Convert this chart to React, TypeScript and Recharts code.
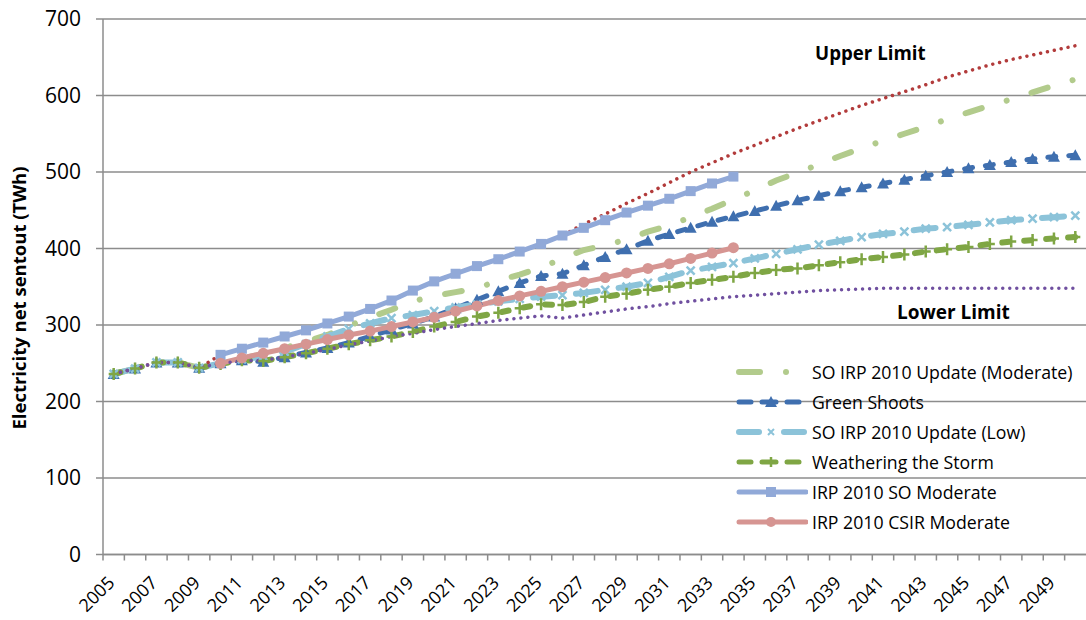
import React from 'react';
import { LineChart, Line, XAxis, YAxis, CartesianGrid } from 'recharts';

const years = [
  2005, 2006, 2007, 2008, 2009, 2010, 2011, 2012, 2013, 2014,
  2015, 2016, 2017, 2018, 2019, 2020, 2021, 2022, 2023, 2024,
  2025, 2026, 2027, 2028, 2029, 2030, 2031, 2032, 2033, 2034,
  2035, 2036, 2037, 2038, 2039, 2040, 2041, 2042, 2043, 2044,
  2045, 2046, 2047, 2048, 2049, 2050,
];

const soUpdateModerate = [
  236, 243, 251, 251, 244, 250, 256, 262, 270, 278,
  287, 299, 310, 320, 331, 338, 343, 348, 358, 366,
  375, 387, 398, 404, 412, 422, 430, 441, 452, 464,
  476, 489, 499, 510, 521, 531, 541, 550, 559, 569,
  578, 587, 595, 604, 613, 621,
];

const greenShoots = [
  236, 243, 251, 251, 244, 250, 254, 252, 258, 264,
  270, 277, 285, 294, 302, 311, 322, 333, 344, 355,
  364, 367, 378, 389, 399, 410, 419, 427, 435, 442,
  449, 456, 463, 469, 475, 480, 485, 490, 495, 500,
  505, 509, 513, 517, 520, 522,
];

const soUpdateLow = [
  236, 243, 251, 251, 244, 250, 255, 259, 265, 275,
  285, 295, 302, 309, 313, 318, 323, 327, 331, 334,
  337, 339, 342, 346, 350, 355, 363, 371, 376, 381,
  387, 393, 399, 405, 410, 415, 419, 422, 426, 428,
  431, 434, 437, 439, 441, 443,
];

const weathering = [
  236, 243, 251, 251, 244, 249, 254, 253, 258, 263,
  269, 275, 280, 285, 291, 298, 304, 311, 316, 322,
  327, 326, 330, 337, 341, 346, 350, 355, 359, 363,
  368, 372, 374, 378, 382, 386, 389, 392, 396, 399,
  402, 406, 409, 411, 413, 415,
];

const irpSoModerate = [
  null, null, null, null, null, 261, 269, 277, 285, 293,
  302, 311, 321, 332, 345, 357, 367, 377, 386, 396,
  406, 417, 427, 437, 447, 456, 465, 475, 485, 494,
  null, null, null, null, null, null, null, null, null, null,
  null, null, null, null, null, null,
];

const irpCsirModerate = [
  null, null, null, null, null, 250, 257, 263, 269, 275,
  281, 287, 292, 298, 304, 310, 318, 325, 332, 338,
  344, 350, 356, 362, 368, 374, 380, 387, 394, 401,
  null, null, null, null, null, null, null, null, null, null,
  null, null, null, null, null, null,
];

const upperLimit = [
  236, 243, 251, 251, 244, 261, 269, 277, 285, 293,
  302, 311, 321, 332, 345, 357, 367, 377, 386, 396,
  406, 417, 432, 445, 459, 472, 486, 500, 512, 524,
  535, 546, 557, 567, 577, 587, 596, 605, 614, 624,
  632, 640, 647, 653, 659, 665,
];

const lowerLimit = [
  236, 243, 251, 251, 244, 250, 253, 254, 258, 263,
  268, 274, 279, 285, 289, 294, 298, 302, 306, 309,
  312, 309, 313, 317, 321, 324, 328, 331, 334, 337,
  339, 341, 343, 345, 346, 347, 348, 348, 348, 348,
  348, 348, 348, 348, 348, 348,
];

const yTicks = [0, 100, 200, 300, 400, 500, 600, 700];

const data = years.map((year, i) => ({
  year,
  soUpdateModerate: soUpdateModerate[i],
  greenShoots: greenShoots[i],
  soUpdateLow: soUpdateLow[i],
  weathering: weathering[i],
  irpSoModerate: irpSoModerate[i],
  irpCsirModerate: irpCsirModerate[i],
  upperLimit: upperLimit[i],
  lowerLimit: lowerLimit[i],
}));

const FONT = '"Open Sans", sans-serif';
const GRID = '#8c8c8c';

const C = {
  soUpdMod: '#b2cb8c',
  green: '#3f6faf',
  low: '#8cc3d9',
  weather: '#7fa644',
  soMod: '#91a9d8',
  csir: '#d69592',
  upper: '#b23b3b',
  lower: '#7050a0',
};

// markers
const triangle = (color: string) => (p: any) => {
  const { cx, cy, index } = p;
  if (cx == null || cy == null) return <g key={index} />;
  return <path key={index} d={`M${cx},${cy - 6} L${cx + 6},${cy + 5} L${cx - 6},${cy + 5} Z`} fill={color} />;
};
const cross = (color: string) => (p: any) => {
  const { cx, cy, index } = p;
  if (cx == null || cy == null) return <g key={index} />;
  return (
    <path key={index} d={`M${cx - 4},${cy - 4} L${cx + 4},${cy + 4} M${cx - 4},${cy + 4} L${cx + 4},${cy - 4}`}
      stroke={color} strokeWidth={2.5} />
  );
};
const plus = (color: string) => (p: any) => {
  const { cx, cy, index } = p;
  if (cx == null || cy == null) return <g key={index} />;
  return (
    <path key={index} d={`M${cx - 5},${cy} L${cx + 5},${cy} M${cx},${cy - 6} L${cx},${cy + 6}`}
      stroke={color} strokeWidth={2.5} />
  );
};
const square = (color: string) => (p: any) => {
  const { cx, cy, index } = p;
  if (cx == null || cy == null) return <g key={index} />;
  return <rect key={index} x={cx - 5} y={cy - 5} width={10} height={10} fill={color} />;
};
const circle = (color: string) => (p: any) => {
  const { cx, cy, index } = p;
  if (cx == null || cy == null) return <g key={index} />;
  return <circle key={index} cx={cx} cy={cy} r={5.5} fill={color} />;
};

const BAND = 983 / 46;

const XTick = (props: any) => {
  const { x, y, payload } = props;
  const show = payload.value % 2 === 1;
  const ax = x + 2;
  const ay = y + 29.5;
  return (
    <g>
      <line x1={x - BAND / 2} x2={x - BAND / 2} y1={y} y2={y + 6} stroke={GRID} strokeWidth={1.5} />
      {show && (
        <text x={ax} y={ay} textAnchor="end" transform={`rotate(-45, ${ax}, ${ay})`}
          fill="#000" fontSize={18} fontFamily={FONT}>
          {payload.value}
        </text>
      )}
    </g>
  );
};

const YTick = (props: any) => {
  const { y, payload } = props;
  return (
    <text x={81} y={y} dy={7} textAnchor="end" fill="#000" fontSize={21} fontFamily={FONT}>
      {payload.value}
    </text>
  );
};

const legendItems = [
  { name: 'SO IRP 2010 Update (Moderate)', key: 'soUpdMod' },
  { name: 'Green Shoots', key: 'green' },
  { name: 'SO IRP 2010 Update (Low)', key: 'low' },
  { name: 'Weathering the Storm', key: 'weather' },
  { name: 'IRP 2010 SO Moderate', key: 'soMod' },
  { name: 'IRP 2010 CSIR Moderate', key: 'csir' },
];

const LegendIcon = ({ k }: { k: string }) => {
  const y = 8;
  if (k === 'soUpdMod') {
    return (
      <svg width={72} height={16}>
        <line x1={3} x2={24} y1={y} y2={y} stroke={C.soUpdMod} strokeWidth={6} strokeLinecap="round" />
        <circle cx={50} cy={y} r={3} fill={C.soUpdMod} />
      </svg>
    );
  }
  if (k === 'green' || k === 'weather') {
    const col = k === 'green' ? C.green : C.weather;
    return (
      <svg width={72} height={16}>
        <line x1={3} x2={15} y1={y} y2={y} stroke={col} strokeWidth={5} strokeLinecap="round" />
        <line x1={26} x2={40} y1={y} y2={y} stroke={col} strokeWidth={5} strokeLinecap="round" />
        <line x1={51} x2={63} y1={y} y2={y} stroke={col} strokeWidth={5} strokeLinecap="round" />
        {k === 'green'
          ? <path d={`M35,${y - 6} L41,${y + 5} L29,${y + 5} Z`} fill={col} />
          : <path d={`M35,${y - 5} L35,${y + 5}`} stroke={col} strokeWidth={2.5} />}
      </svg>
    );
  }
  if (k === 'low') {
    return (
      <svg width={72} height={16}>
        <line x1={3} x2={23} y1={y} y2={y} stroke={C.low} strokeWidth={6} strokeLinecap="round" />
        <path d={`M32,${y - 3} L38,${y + 3} M32,${y + 3} L38,${y - 3}`} stroke={C.low} strokeWidth={2} />
        <line x1={48} x2={68} y1={y} y2={y} stroke={C.low} strokeWidth={6} strokeLinecap="round" />
      </svg>
    );
  }
  const col = k === 'soMod' ? C.soMod : C.csir;
  return (
    <svg width={72} height={16}>
      <line x1={3} x2={70} y1={y} y2={y} stroke={col} strokeWidth={5} strokeLinecap="round" />
      {k === 'soMod'
        ? <rect x={30} y={y - 5} width={10} height={10} fill={col} />
        : <circle cx={35} cy={y} r={5} fill={col} />}
    </svg>
  );
};

export default function App() {
  return (
    <div style={{ position: 'absolute', left: 0, top: 0, width: 1086, height: 620, background: '#fff', fontFamily: FONT }}>
      <LineChart width={1086} height={620} data={data} margin={{ top: 19, right: 0, left: 0, bottom: 5.5 }}>
        <CartesianGrid vertical={false} stroke={GRID} strokeWidth={1.5} />
        <XAxis dataKey="year" scale="band" interval={0} tickLine={false} tickSize={0} tickMargin={0}
          height={60} axisLine={{ stroke: GRID, strokeWidth: 1.5 }} tick={<XTick />} />
        <YAxis domain={[0, 700]} ticks={yTicks} interval={0} width={103} tickSize={7}
          axisLine={{ stroke: GRID, strokeWidth: 1.5 }} tickLine={{ stroke: GRID, strokeWidth: 1.5 }}
          tick={<YTick />} />

        <Line dataKey="soUpdateModerate" stroke={C.soUpdMod} strokeWidth={6} strokeLinecap="round"
          strokeDasharray="17 26 0.01 26" dot={false} isAnimationActive={false} />
        <Line dataKey="greenShoots" stroke={C.green} strokeWidth={5} strokeLinecap="round"
          strokeDasharray="8 13" dot={triangle(C.green)} isAnimationActive={false} />
        <Line dataKey="soUpdateLow" stroke={C.low} strokeWidth={6} strokeLinecap="round"
          strokeDasharray="22 21" dot={cross(C.low)} isAnimationActive={false} />
        <Line dataKey="weathering" stroke={C.weather} strokeWidth={6} strokeLinecap="round"
          strokeDasharray="7 15" dot={plus(C.weather)} isAnimationActive={false} />
        <Line dataKey="upperLimit" stroke={C.upper} strokeWidth={3.5} strokeLinecap="round"
          strokeDasharray="0.01 7" dot={false} isAnimationActive={false} />
        <Line dataKey="irpSoModerate" stroke={C.soMod} strokeWidth={5} dot={square(C.soMod)}
          isAnimationActive={false} />
        <Line dataKey="irpCsirModerate" stroke={C.csir} strokeWidth={5} dot={circle(C.csir)}
          isAnimationActive={false} />
        <Line dataKey="lowerLimit" stroke={C.lower} strokeWidth={3.5} strokeLinecap="round"
          strokeDasharray="0.01 7" dot={false} isAnimationActive={false} />
      </LineChart>

      <div style={{
        position: 'absolute', left: 18, top: 298, transform: 'translate(-50%, -50%) rotate(-90deg)',
        whiteSpace: 'nowrap', fontWeight: 700, fontSize: 18.5, color: '#000',
      }}>
        Electricity net sentout (TWh)
      </div>
      <div style={{ position: 'absolute', left: 815, top: 40, fontWeight: 700, fontSize: 18.7, color: '#000' }}>
        Upper Limit
      </div>
      <div style={{ position: 'absolute', left: 897, top: 299, fontWeight: 700, fontSize: 19, color: '#000' }}>
        Lower Limit
      </div>

      <div style={{ position: 'absolute', left: 736, top: 357 }}>
        {legendItems.map((it) => (
          <div key={it.key} style={{ display: 'flex', alignItems: 'center', height: 30 }}>
            <LegendIcon k={it.key} />
            <span style={{ marginLeft: 4, fontSize: 17.7, color: '#000', whiteSpace: 'nowrap' }}>{it.name}</span>
          </div>
        ))}
      </div>
    </div>
  );
}
